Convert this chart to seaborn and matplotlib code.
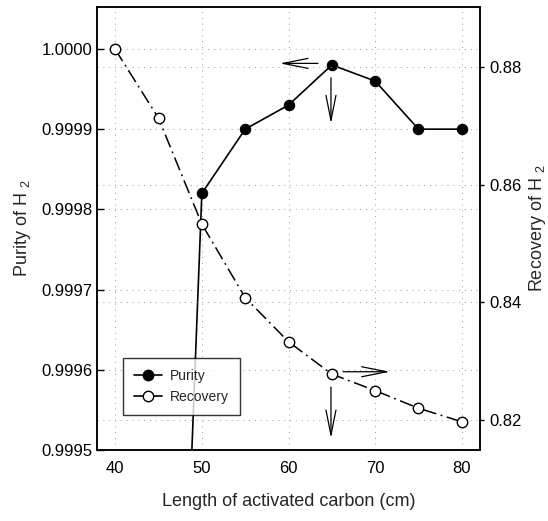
import matplotlib
matplotlib.use("Agg")
import matplotlib.pyplot as plt
import seaborn as sns
import pandas as pd
from matplotlib.lines import Line2D
from matplotlib.ticker import FormatStrFormatter

# ---- data ----
purity_x = [45, 50, 55, 60, 65, 70, 75, 80]
purity_y = [0.99843, 0.99982, 0.99990, 0.99993, 0.99998, 0.99996, 0.99990, 0.99990]
recovery_x = [40, 45, 50, 55, 60, 65, 70, 75, 80]
recovery_y = [0.8830, 0.8713, 0.8533, 0.8408, 0.8333, 0.8278, 0.8250, 0.8220, 0.8197]
x_ticks = [40, 50, 60, 70, 80]
left_ticks = [0.9995, 0.9996, 0.9997, 0.9998, 0.9999, 1.0000]
right_ticks = [0.82, 0.84, 0.86, 0.88]

sns.set_theme(style="white")
plt.rcParams['font.family'] = ['Liberation Sans', 'DejaVu Sans']
plt.rcParams['mathtext.fontset'] = 'custom'
plt.rcParams['mathtext.rm'] = 'Liberation Sans'
plt.rcParams['mathtext.it'] = 'Liberation Sans'

fig = plt.figure(figsize=(5.48, 5.21), dpi=100)
ax = fig.add_axes([97/548, 71/521, 383/548, 443/521])
ax2 = ax.twinx()

dfp = pd.DataFrame({"x": purity_x, "y": purity_y})
dfr = pd.DataFrame({"x": recovery_x, "y": recovery_y})

sns.lineplot(data=dfp, x="x", y="y", ax=ax, color="black", lw=1.2,
             marker="o", markersize=7.5, markerfacecolor="black",
             markeredgecolor="black", zorder=5)
sns.lineplot(data=dfr, x="x", y="y", ax=ax2, color="black", lw=1.1,
             marker="o", markersize=7.5, markerfacecolor="white",
             markeredgecolor="black", markeredgewidth=1.0, zorder=5)
for l in ax2.lines:
    l.set_dashes([9, 3, 1.2, 3])

ax.set_xlim(37.9, 82.1)
ax.set_ylim(0.9995, 1.0000523)
ax2.set_ylim(0.8149, 0.8902)

ax.set_xticks(x_ticks)
ax.set_yticks(left_ticks)
ax2.set_yticks(right_ticks)
ax.yaxis.set_major_formatter(FormatStrFormatter('%.4f'))
ax2.yaxis.set_major_formatter(FormatStrFormatter('%.2f'))

ax.grid(True, ls=(0, (1, 5)), color='0.6', lw=0.7)
ax2.grid(True, axis='y', ls=(0, (1, 5)), color='0.6', lw=0.7)
ax.set_axisbelow(True)

ax.tick_params(axis='both', direction='in', length=5, width=1, labelsize=12, colors='black')
ax.tick_params(axis='x', pad=8)
ax2.tick_params(axis='y', direction='out', length=3, width=1, labelsize=12, colors='black')
for a in (ax, ax2):
    for s in a.spines.values():
        s.set_color('black')
        s.set_linewidth(1.1)

ax.set_xlabel("Length of activated carbon (cm)", fontsize=13, labelpad=12)
ax.set_ylabel(r"Purity of H $_2$", fontsize=13, labelpad=6)
ax2.set_ylabel(r"Recovery of H $_2$", fontsize=13, labelpad=4)

# arrows
arrow = dict(arrowstyle='->,head_length=1.5,head_width=0.3', lw=0.9, color='black',
             shrinkA=0, shrinkB=0)
ax.annotate('', xy=(59.0, 0.999982), xytext=(63.4, 0.999982), arrowprops=arrow)
ax.annotate('', xy=(64.9, 0.999907), xytext=(64.9, 0.999964), arrowprops=arrow)
ax2.annotate('', xy=(71.7, 0.8282), xytext=(66.3, 0.8282), arrowprops=arrow)
ax2.annotate('', xy=(64.9, 0.8169), xytext=(64.9, 0.8256), arrowprops=arrow)

handles = [
    Line2D([], [], color='black', lw=1.2, marker='o', markersize=7.5,
           markerfacecolor='black', label='Purity'),
    Line2D([], [], color='black', lw=1.2, marker='o', markersize=7.5,
           markerfacecolor='white', label='Recovery'),
]
leg = ax.legend(handles=handles, loc='lower left', bbox_to_anchor=(0.068, 0.079),
                fontsize=10, frameon=True, fancybox=False, borderaxespad=0,
                handlelength=2.0, borderpad=0.8, labelspacing=0.5, handletextpad=0.6)
leg.get_frame().set_edgecolor('black')
leg.get_frame().set_linewidth(1.0)
leg.set_zorder(10)

fig.savefig("out.png", dpi=100)
